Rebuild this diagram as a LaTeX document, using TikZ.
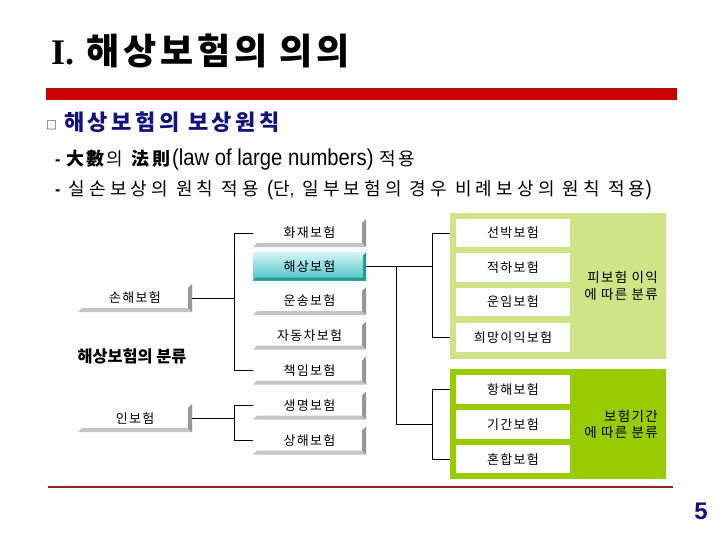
\documentclass[tikz,border=0pt]{standalone}
\usepackage{fontspec}
\setmainfont{Liberation Sans}
\newfontfamily\kr{Noto Sans CJK KR}
\newfontfamily\krt{Noto Sans CJK KR}[LetterSpace=11]
\newfontfamily\krh{Noto Sans CJK KR}[LetterSpace=16]
\newfontfamily\krb{Noto Sans CJK KR}[LetterSpace=12]
\newfontfamily\krc{Noto Sans CJK KR}[LetterSpace=23]
\newfontfamily\krs{Noto Sans CJK KR}[LetterSpace=10]
\newfontfamily\tms{Liberation Serif}
\newfontfamily\nsans{Liberation Sans}[FakeStretch=0.88]
\usetikzlibrary{calc}
\definecolor{navy}{RGB}{18,18,125}
\definecolor{barred}{RGB}{204,0,0}
\definecolor{bardark}{RGB}{150,20,20}
\definecolor{linered}{RGB}{150,35,35}
\definecolor{lightgreen}{RGB}{206,228,134}
\definecolor{darkgreen}{RGB}{153,204,0}
\definecolor{bevlight}{RGB}{196,196,196}
\definecolor{bevdark}{RGB}{150,150,150}
\definecolor{tealtop}{RGB}{212,244,244}
\definecolor{tealbot}{RGB}{70,196,196}
\definecolor{tealedge}{RGB}{40,150,150}
\tikzset{
  btn/.style={minimum width=113pt, minimum height=28pt, inner sep=0pt, font=\krs\fontsize{13}{13}\selectfont},
  wbox/.style={fill=white, minimum width=114pt, minimum height=28.5pt, inner sep=0pt, font=\krs\fontsize{13}{13}\selectfont},
  side/.style={inner sep=0pt, align=right, anchor=east, font=\krs\fontsize{13.5}{16.5}\selectfont},
  conn/.style={draw=black, line width=1pt},
}
\newcommand\bevelize[1]{%
  \fill[bevlight] (#1.south west) -- ([shift={(4pt,4pt)}]#1.south west) -- ([shift={(-4pt,4pt)}]#1.south east) -- (#1.south east) -- cycle;
  \fill[bevdark] ([shift={(-4pt,4pt)}]#1.south east) -- ([shift={(-4pt,-4pt)}]#1.north east) -- (#1.north east) -- (#1.south east) -- cycle;
}
\begin{document}
\begin{tikzpicture}[x=1pt,y=-1pt]
\useasboundingbox[fill=white] (0,0) rectangle (720,540);
% title
\node[anchor=base west, inner sep=0pt, font=\tms\bfseries\fontsize{36}{36}\selectfont] (tI) at (51,65) {I.};
\node[anchor=base west, inner sep=0pt, font=\krt\bfseries\fontsize{36}{36}\selectfont] (title) at (86,65) {해상보험의 의의};
\fill[barred] (46,88.5) rectangle (677,100);
\draw[bardark, line width=0.8pt] (46,88.5) -- (677,88.5);
% subheading
\node[anchor=base west, inner sep=0pt, font=\kr\fontsize{11}{11}\selectfont] (sq) at (46,130) {□};
\node[anchor=base west, inner sep=0pt, text=navy, font=\krh\bfseries\fontsize{22}{22}\selectfont] (sub) at (64,131) {해상보험의 보상원칙};
% body lines
\node[anchor=base west, inner sep=0pt, font=\krb\fontsize{18}{18}\selectfont] (l1) at (55,166) {\textbf{\nsans -} \textbf{大數}의 \textbf{法則}{\nsans\fontsize{23}{23}\selectfont(law of large numbers)} 적용};
\node[anchor=base west, inner sep=0pt, font=\krc\fontsize{18}{18}\selectfont] (l2) at (55,196) {\textbf{\nsans -} 실손보상의 원칙 적용 {\nsans\fontsize{21}{21}\selectfont(}단{\nsans,} 일부보험의 경우 비례보상의 원칙 적용{\nsans\fontsize{21}{21}\selectfont)}};
% left column
\node[btn, minimum width=114pt] (sonhae) at (135,298) {손해보험};
\node[btn, minimum width=114pt] (inbo) at (135,418) {인보험};
\node[inner sep=0pt, font=\kr\bfseries\fontsize{16.3}{16.3}\selectfont] (cls) at (132,356) {해상보험의 분류};
% middle column
\node[btn] (hwajae) at (309.5,233) {화재보험};
\node[btn, shading=axis, top color=tealtop, bottom color=tealbot] (haesang) at (309.5,266.5) {해상보험};
\node[btn] (unsong) at (309.5,301) {운송보험};
\node[btn] (jadong) at (309.5,335.5) {자동차보험};
\node[btn] (chaegim) at (309.5,370.5) {책임보험};
\node[btn] (saengmyeong) at (309.5,405.5) {생명보험};
\node[btn] (sanghae) at (309.5,440.5) {상해보험};
\foreach \n in {sonhae,inbo,hwajae,unsong,jadong,chaegim,saengmyeong,sanghae}{\bevelize{\n}}
\fill[tealedge] ([shift={(-3pt,3pt)}]haesang.south east) -- ([shift={(-3pt,-3pt)}]haesang.north east) -- (haesang.north east) -- (haesang.south east) -- cycle;
\fill[tealedge] (haesang.south west) -- ([shift={(3pt,3pt)}]haesang.south west) -- ([shift={(-3pt,3pt)}]haesang.south east) -- (haesang.south east) -- cycle;
% panels
\node[fill=lightgreen, minimum width=216pt, minimum height=146pt, inner sep=0pt, anchor=north west] (panelA) at (450,213) {};
\node[fill=darkgreen, minimum width=216pt, minimum height=110pt, inner sep=0pt, anchor=north west] (panelB) at (450,369) {};
\node[wbox] (sunbak) at (513,233) {선박보험};
\node[wbox] (jeokha) at (513,267.5) {적하보험};
\node[wbox] (unim) at (513,302) {운임보험};
\node[wbox] (huimang) at (513,337.5) {희망이익보험};
\node[wbox] (hanghae) at (513,389.5) {항해보험};
\node[wbox] (gigan) at (513,424.5) {기간보험};
\node[wbox] (honhap) at (513,459) {혼합보험};
\node[side] (pA) at (658,286) {피보험 이익\\에 따른 분류};
\node[side] (pB) at (658,424.5) {보험기간\\에 따른 분류};
% connectors
\coordinate (vx1) at (234,0);
\coordinate (vx2) at (396,0);
\coordinate (vx3) at (432,0);
\draw[conn] (sonhae.east) -- (sonhae.east -| vx1);
\draw[conn] (hwajae.west) -- (hwajae.west -| vx1) -- (chaegim.west -| vx1) -- (chaegim.west);
\draw[conn] (inbo.east) -- (inbo.east -| vx1);
\draw[conn] (saengmyeong.west) -- (saengmyeong.west -| vx1) -- (sanghae.west -| vx1) -- (sanghae.west);
\draw[conn] (haesang.east) -- (haesang.east -| vx3);
\draw[conn] (sunbak.west -| panelA.west) -- (sunbak.west -| vx3) -- (huimang.west -| vx3) -- (huimang.west -| panelA.west);
\draw[conn] (haesang.east -| vx2) -- (gigan.west -| vx2) -- (gigan.west -| vx3);
\draw[conn] (hanghae.west -| panelB.west) -- (hanghae.west -| vx3) -- (honhap.west -| vx3) -- (honhap.west -| panelB.west);
% footer
\draw[linered, line width=1.5pt] (48,487) -- (673,487);
\node[inner sep=0pt, text=navy, font=\bfseries\fontsize{24}{24}\selectfont] (pg) at (701,511) {5};
\end{tikzpicture}
\end{document}
